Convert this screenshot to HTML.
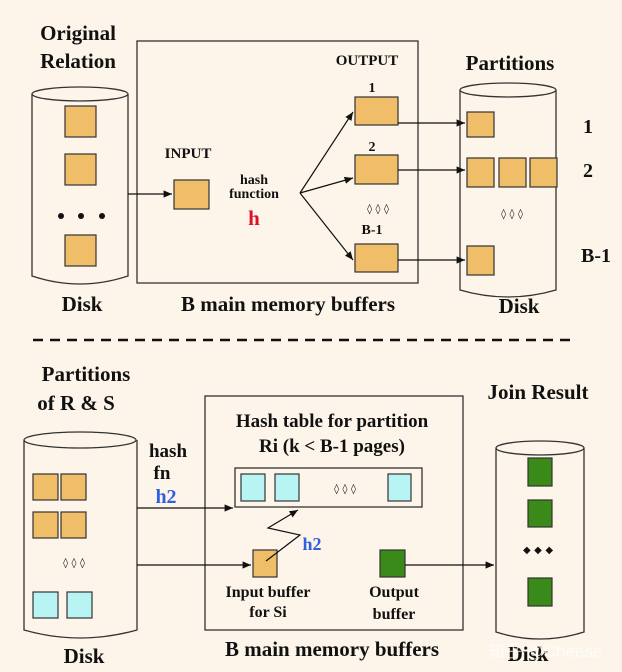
<!DOCTYPE html>
<html><head><style>
html,body{margin:0;padding:0;background:#fdf5ea;}
svg{display:block;}
text{font-family:"Liberation Serif","Noto Serif CJK SC",serif;font-weight:bold;fill:#111;}
</style></head><body>
<svg width="622" height="672" viewBox="0 0 622 672" xmlns="http://www.w3.org/2000/svg">
<defs><marker id="a" markerWidth="8" markerHeight="8" refX="7" refY="4" orient="auto"><path d="M0,1 L7,4 L0,7 z" fill="#111"/></marker></defs>
<rect width="622" height="672" fill="#fdf5ea"/>
<g stroke="#333" stroke-width="1.3" fill="none">
<!-- top left cylinder -->
<path d="M32,94 L32,276 Q80,292 128,276 L128,94"/><ellipse cx="80" cy="94" rx="48" ry="7"/>
<!-- top box -->
<rect x="137" y="41" width="281" height="242"/>
<!-- right cylinder top -->
<path d="M460,90 L460,290 Q508,304 556,290 L556,90"/><ellipse cx="508" cy="90" rx="48" ry="7"/>
<!-- bottom left cylinder -->
<path d="M24,440 L24,630 Q80,646 137,630 L137,440"/><ellipse cx="80" cy="440" rx="56" ry="8"/>
<rect x="205" y="396" width="258" height="234"/>
<rect x="235" y="468" width="187" height="39"/>
<path d="M496,448 L496,632 Q540,646 584,632 L584,448"/><ellipse cx="540" cy="448" rx="44" ry="7"/>
</g>
<g stroke="#333" stroke-width="1.2" fill="#f0bd68">
<rect x="65" y="106" width="31" height="31"/><rect x="65" y="154" width="31" height="31"/><rect x="65" y="235" width="31" height="31"/>
<rect x="174" y="180" width="35" height="29"/>
<rect x="355" y="97" width="43" height="28"/><rect x="355" y="155" width="43" height="29"/><rect x="355" y="244" width="43" height="28"/>
<rect x="467" y="112" width="27" height="25"/><rect x="467" y="158" width="27" height="29"/><rect x="499" y="158" width="27" height="29"/><rect x="530" y="158" width="27" height="29"/><rect x="467" y="246" width="27" height="29"/>
<rect x="33" y="474" width="25" height="26"/><rect x="61" y="474" width="25" height="26"/><rect x="33" y="512" width="25" height="26"/><rect x="61" y="512" width="25" height="26"/>
<rect x="253" y="550" width="24" height="27"/>
</g>
<g stroke="#333" stroke-width="1.2" fill="#b8f4f4">
<rect x="33" y="592" width="25" height="26"/><rect x="67" y="592" width="25" height="26"/>
<rect x="241" y="474" width="24" height="27"/><rect x="275" y="474" width="24" height="27"/><rect x="388" y="474" width="23" height="27"/>
</g>
<g stroke="#333" stroke-width="1.2" fill="#3a8a1a">
<rect x="380" y="550" width="25" height="27"/>
<rect x="528" y="458" width="24" height="28"/><rect x="528" y="500" width="24" height="27"/><rect x="528" y="578" width="24" height="28"/>
</g>
<g fill="#111"><circle cx="61" cy="216" r="3"/><circle cx="81" cy="216" r="3"/><circle cx="102" cy="216" r="3"/></g>
<g stroke="#111" stroke-width="1.2" fill="none" marker-end="url(#a)">
<line x1="128" y1="194" x2="172" y2="194"/>
<line x1="300" y1="193" x2="353" y2="112"/><line x1="300" y1="193" x2="353" y2="178"/><line x1="300" y1="193" x2="353" y2="260"/>
<line x1="398" y1="123" x2="465" y2="123"/><line x1="398" y1="170" x2="465" y2="170"/><line x1="398" y1="260" x2="465" y2="260"/>
<line x1="137" y1="508" x2="233" y2="508"/><line x1="137" y1="565" x2="251" y2="565"/><line x1="405" y1="565" x2="494" y2="565"/>
<polyline points="266,561 300,535 268,528 298,510"/>
</g>
<line x1="33" y1="340" x2="575" y2="340" stroke="#111" stroke-width="2.5" stroke-dasharray="10,7"/>
<g font-size="14" text-anchor="middle" fill="#111" style="font-family:'DejaVu Sans',sans-serif">
<text x="378" y="212" style="font-family:'DejaVu Sans'" font-size="10">◊ ◊ ◊</text>
<text x="512" y="217" style="font-family:'DejaVu Sans'" font-size="10">◊ ◊ ◊</text>
<text x="74" y="566" style="font-family:'DejaVu Sans'" font-size="10">◊ ◊ ◊</text>
<text x="345" y="492" style="font-family:'DejaVu Sans'" font-size="10">◊ ◊ ◊</text>
<text x="538" y="553" style="font-family:'DejaVu Sans'" font-size="10">◆ ◆ ◆</text>
</g>
<g text-anchor="middle">
<text x="78" y="40" font-size="21">Original</text><text x="78" y="68" font-size="21">Relation</text>
<text x="188" y="158" font-size="15">INPUT</text>
<text x="254" y="184" font-size="14">hash</text><text x="254" y="198" font-size="14">function</text>
<text x="254" y="225" font-size="21" style="fill:#e0102a">h</text>
<text x="367" y="65" font-size="15">OUTPUT</text>
<text x="372" y="92" font-size="14">1</text><text x="372" y="151" font-size="14">2</text><text x="372" y="234" font-size="14">B-1</text>
<text x="510" y="70" font-size="21">Partitions</text>
<text x="588" y="133" font-size="20">1</text><text x="588" y="177" font-size="20">2</text><text x="596" y="262" font-size="20">B-1</text>
<text x="82" y="311" font-size="21">Disk</text><text x="288" y="311" font-size="21">B main memory buffers</text><text x="519" y="313" font-size="21">Disk</text>
<text x="86" y="381" font-size="21">Partitions</text><text x="76" y="410" font-size="21">of R &amp; S</text>
<text x="168" y="457" font-size="19">hash</text><text x="162" y="479" font-size="19">fn</text>
<text x="166" y="503" font-size="20" style="fill:#3060e0">h2</text>
<text x="312" y="550" font-size="18" style="fill:#3060e0">h2</text>
<text x="332" y="427" font-size="19">Hash table for partition</text><text x="332" y="452" font-size="19">Ri (k &lt; B-1 pages)</text>
<text x="538" y="399" font-size="21">Join Result</text>
<text x="268" y="597" font-size="16">Input buffer</text><text x="268" y="617" font-size="16">for Si</text>
<text x="394" y="597" font-size="16">Output</text><text x="394" y="619" font-size="16">buffer</text>
<text x="332" y="656" font-size="21">B main memory buffers</text>
<text x="84" y="663" font-size="21">Disk</text><text x="528" y="661" font-size="21">Disk</text>
<text x="545" y="657" font-size="17" style="fill:#fff;font-weight:normal;opacity:0.7;font-family:'Liberation Sans','Noto Sans CJK SC',sans-serif">知乎 @Cheese</text>
</g>
</svg>
</body></html>
